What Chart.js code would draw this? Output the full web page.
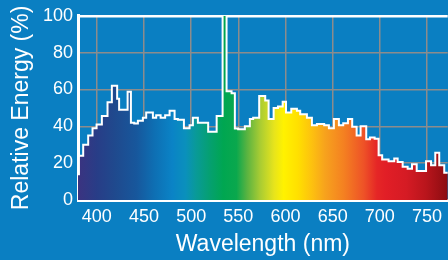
<!DOCTYPE html>
<html>
<head>
<meta charset="utf-8">
<script src="https://cdn.jsdelivr.net/npm/chart.js@4"></script>
<style>
  html, body { margin: 0; padding: 0; background: #0a7fc2; }
  #wrap { width: 448px; height: 260px; position: relative; }
</style>
</head>
<body>
<div id="wrap"><canvas id="spectrum_chart"></canvas></div>
<script>
"use strict";

// left edge (nm) of every step of the spectrum, last entry closes the final step
const stepEdges = [
  380, 381, 385.5, 390.8, 395.4, 399.7, 405.3, 411.3, 415.9, 421.5,
  423.6, 432.6, 436.1, 439.6, 443.5, 448.8, 452.3, 459.4, 462.9, 467.6,
  472.4, 477.1, 482.4, 485.9, 492.3, 498.3, 501.8, 507.1, 518, 527,
  533.3, 537.5, 542.8, 546.3, 549.8, 556.9, 562.2, 565.7, 572.1, 578.5,
  582.1, 587.4, 592, 597, 600.5, 606.1, 612.1, 615.6, 622.7, 628,
  633.3, 641, 646, 651.3, 656.6, 661.2, 666.2, 670.7, 675.4, 679.6,
  685.6, 689.5, 694.5, 698.7, 702.5, 709.3, 715.3, 718.9, 724.2, 729.5,
  734.1, 739.1, 749, 754.3, 758.8, 763, 768.3, 775
];
// relative energy (%) of each step
const relativeEnergy = [
  14, 24, 30, 35, 39, 41, 45.6, 53, 62, 55,
  49, 58.7, 42, 41.5, 43, 44.7, 47.5, 44.7, 46, 44.7,
  46, 48.4, 44, 43.5, 39, 40.6, 44.7, 42, 37, 45.6,
  140, 59, 58, 38.8, 38.4, 40, 44, 44.7, 56.5, 54,
  44, 50, 50.7, 53.4, 47.5, 49.6, 48.4, 46.6, 44.7, 40.6,
  41.3, 40.6, 39, 44, 40.6, 41.7, 44, 39.7, 35, 40,
  33, 33.9, 33.3, 24.3, 22, 21, 22.5, 20.6, 18, 17,
  19.4, 15.8, 21, 18.8, 25.7, 18.8, 14.8
];
const xTicks = [400, 450, 500, 550, 600, 650, 700, 750];
const yTicks = [0, 20, 40, 60, 80, 100];

// colour of the light at a wavelength
const spectrumColours = [
  [380, "#3b3380"], [400, "#283d87"], [420, "#1f4a8e"], [442, "#17579c"],
  [461, "#0e6fb3"], [480, "#0a83c6"], [494, "#0a90bc"], [505, "#099a98"],
  [520, "#05a070"], [534, "#00a651"], [548, "#0aa84d"], [559, "#58b341"],
  [573, "#a8cc33"], [588, "#e7e41c"], [598, "#fff200"], [613, "#ffe000"],
  [628, "#fdc10f"], [642, "#f7a21d"], [662, "#f48021"], [683, "#ee5227"],
  [697, "#e52626"], [707, "#e11e26"], [728, "#d51b24"], [749, "#b9151c"],
  [772, "#8b0c11"]
];

// stepped "before": the value at an edge holds until the next edge
const spectrumPoints = stepEdges.map((x, i) => ({
  x: x,
  y: relativeEnergy[Math.min(i, relativeEnergy.length - 1)]
}));

function spectrumFill(context) {
  const chart = context.chart;
  const area = chart.chartArea;
  if (!area) return "rgba(0,0,0,0)";
  const xScale = chart.scales.x;
  const gradient = chart.ctx.createLinearGradient(area.left, 0, area.right, 0);
  spectrumColours.forEach(([nm, colour]) => {
    const t = (xScale.getPixelForValue(nm) - area.left) / (area.right - area.left);
    gradient.addColorStop(Math.min(1, Math.max(0, t)), colour);
  });
  return gradient;
}

const font = "'Liberation Sans', Arial, sans-serif";

const spectrumChartConfig = {
  type: "line",
  data: {
    datasets: [{
      data: spectrumPoints,
      stepped: "before",
      fill: "origin",
      backgroundColor: spectrumFill,
      borderColor: "#ffffff",
      borderWidth: 2,
      pointRadius: 0
    }]
  },
  options: {
    responsive: true,
    maintainAspectRatio: false,
    animation: false,
    layout: { padding: { top: 15, right: 0, left: 0, bottom: 0 } },
    plugins: { legend: { display: false }, tooltip: { enabled: false } },
    scales: {
      x: {
        type: "linear",
        min: 380,
        max: 772,
        z: 1,
        afterFit(scale) { scale.height = 60; },
        afterBuildTicks(scale) { scale.ticks = xTicks.map(v => ({ value: v })); },
        ticks: { color: "#ffffff", font: { family: font, size: 18 }, padding: 6, includeBounds: false },
        grid: { color: "#8c8c8c", lineWidth: 1.5, drawTicks: false },
        border: { color: "#ffffff", width: 3 },
        title: {
          display: true,
          text: "Wavelength (nm)",
          color: "#ffffff",
          font: { family: font, size: 23 },
          padding: { top: 0, bottom: 2 }
        }
      },
      y: {
        min: 0,
        max: 100,
        z: 1,
        afterFit(scale) { scale.width = 78; },
        afterBuildTicks(scale) { scale.ticks = yTicks.map(v => ({ value: v })); },
        ticks: { color: "#ffffff", font: { family: font, size: 18 }, padding: 5 },
        grid: {
          color: (c) => (c.tick && c.tick.value === 100 ? "#ffffff" : "#8c8c8c"),
          lineWidth: (c) => (c.tick && c.tick.value === 100 ? 2.5 : 1.5),
          drawTicks: false
        },
        border: { color: "#ffffff", width: 3 },
        title: {
          display: true,
          text: "Relative Energy (%)",
          color: "#ffffff",
          font: { family: font, size: 23 },
          padding: { top: 8, bottom: 0 }
        }
      }
    }
  }
};

const spectrumChartContext = document
  .getElementById("spectrum_chart")
  .getContext("2d");

const spectrumChart = new Chart(spectrumChartContext, spectrumChartConfig);
</script>
</body>
</html>
